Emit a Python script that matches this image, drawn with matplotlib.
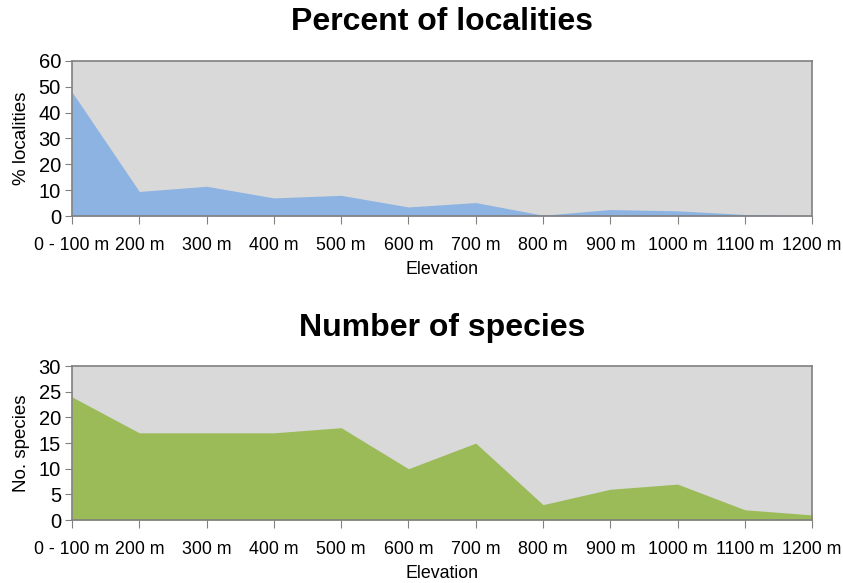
import matplotlib.pyplot as plt

plt.rcParams['font.family'] = ['Liberation Sans', 'DejaVu Sans']

elevation = ['0 - 100 m', '200 m', '300 m', '400 m', '500 m', '600 m',
             '700 m', '800 m', '900 m', '1000 m', '1100 m', '1200 m']
pct_localities = [48, 9.5, 11.5, 7, 8, 3.5, 5.2, 0.3, 2.5, 2, 0.6, 0.2]
no_species = [24, 17, 17, 17, 18, 10, 15, 3, 6, 7, 2, 1]

fig = plt.figure(figsize=(8.43, 5.83), dpi=100)
ax1 = fig.add_axes([0.0854, 0.6295, 0.878, 0.266])
ax2 = fig.add_axes([0.0854, 0.108, 0.878, 0.264])

x = list(range(len(elevation)))


def style(ax, data, color, ymax, ystep, ylabel, title):
    ax.set_facecolor('#D9D9D9')
    ax.fill_between(x, data, 0, color=color, linewidth=0)
    ax.set_xlim(0, len(x) - 1)
    ax.set_ylim(0, ymax)
    ax.set_yticks(range(0, ymax + 1, ystep))
    ax.set_xticks(x)
    ax.set_xticklabels(elevation)
    ax.tick_params(color='#808080', direction='out')
    ax.tick_params(axis='x', length=6, pad=9, labelsize=12.8)
    ax.tick_params(axis='y', length=5, pad=3, labelsize=14.5)
    for s in ax.spines.values():
        s.set_color('#808080')
        s.set_linewidth(1.2)
    ax.set_xlabel('Elevation', fontsize=12.8, labelpad=5)
    ax.set_ylabel(ylabel, fontsize=13.5, labelpad=6)
    ax.set_title(title, fontsize=23, fontweight='bold', pad=22)


style(ax1, pct_localities, '#8DB3E2', 60, 10, '% localities', 'Percent of localities')
style(ax2, no_species, '#9BBB59', 30, 5, 'No. species', 'Number of species')

fig.savefig('out.png', dpi=100)
